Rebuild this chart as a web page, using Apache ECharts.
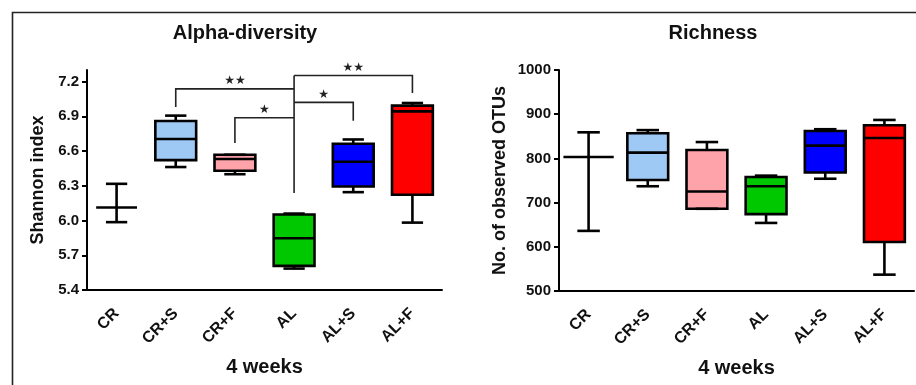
<!DOCTYPE html>
<html>
<head>
<meta charset="utf-8">
<script src="https://cdn.jsdelivr.net/npm/echarts@6/dist/echarts.min.js"></script>
<style>html,body{margin:0;padding:0;background:#fff}#c{width:916px;height:385px}</style>
</head>
<body>
<div id="c"></div>
<script>
// ---- data ----
const categories = ['CR', 'CR+S', 'CR+F', 'AL', 'AL+S', 'AL+F'];
// [min, Q1, median, Q3, max]
const shannonCR  = [5.986, 6.112, 6.112, 6.112, 6.317];
const shannonCRS = [6.462, 6.522, 6.704, 6.860, 6.906];
const shannonCRF = [6.400, 6.430, 6.531, 6.568, 6.568];
const shannonAL  = [5.585, 5.608, 5.847, 6.052, 6.060];
const shannonALS = [6.245, 6.294, 6.508, 6.663, 6.700];
const shannonALF = [5.982, 6.222, 6.943, 6.992, 7.015];

const richCR  = [636, 803, 803, 803, 859];
const richCRS = [737, 751, 813, 857, 864];
const richCRF = [686, 686, 725, 819, 837];
const richAL  = [654, 674, 737, 758, 761];
const richALS = [754, 768, 829, 862, 866];
const richALF = [537, 611, 846, 875, 887];

const shannonTicks = [5.4, 5.7, 6.0, 6.3, 6.6, 6.9, 7.2];
const richTicks = [500, 600, 700, 800, 900, 1000];

// significance brackets: [leftCat, rightCat, barValue, leftEnd, rightEnd, label]
const bracketCRS_AL = [1, 3, 7.137, 6.980, 7.137, '★★'];
const bracketCRF_AL = [2, 3, 6.888, 6.669, 6.888, '★'];
const bracketAL_ALS = [3, 4, 7.020, 7.020, 6.862, '★'];
const bracketAL_ALF = [3, 5, 7.252, 7.252, 7.102, '★★'];
// vertical stem from AL: [cat, top, bottom]
const stemAL = [3, 7.252, 6.237];

const boxColors = ['none', '#9fc9f5', '#ffa3ab', '#00c800', '#0000ff', '#ff0000'];

// ---- build ----
const shannonData = [shannonCR, shannonCRS, shannonCRF, shannonAL, shannonALS, shannonALF].map((d, i) => [i].concat(d));
const richData = [richCR, richCRS, richCRF, richAL, richALS, richALF].map((d, i) => [i].concat(d));
const bracketData = [bracketCRS_AL, bracketCRF_AL, bracketAL_ALS, bracketAL_ALF];

const LW = 2.6;
const INK = '#111';
const FONT = '"Liberation Sans", Arial, sans-serif';

function makeBoxRender(boxRatio, capRatio, flatRatio) {
  return function (params, api) {
    const idx = api.value(0);
    const mn = api.value(1), q1 = api.value(2), md = api.value(3), q3 = api.value(4), mx = api.value(5);
    const band = api.size([1, 0])[0];
    const c = api.coord([idx, md]);
    const cx = c[0];
    const yMin = api.coord([idx, mn])[1];
    const yQ1 = api.coord([idx, q1])[1];
    const yMd = c[1];
    const yQ3 = api.coord([idx, q3])[1];
    const yMax = api.coord([idx, mx])[1];
    const hw = band * boxRatio / 2;
    const cw = band * capRatio / 2;
    const st = { stroke: '#000', lineWidth: LW, fill: null };
    const ch = [];
    ch.push({ type: 'line', shape: { x1: cx, y1: yMax, x2: cx, y2: yQ3 }, style: st });
    ch.push({ type: 'line', shape: { x1: cx, y1: yQ1, x2: cx, y2: yMin }, style: st });
    if (q3 > q1) {
      ch.push({ type: 'rect', shape: { x: cx - hw, y: yQ3, width: 2 * hw, height: yQ1 - yQ3 },
        style: { fill: boxColors[idx], stroke: '#000', lineWidth: LW } });
      ch.push({ type: 'line', shape: { x1: cx - hw, y1: yMd, x2: cx + hw, y2: yMd }, style: st });
    } else {
      const fw = band * flatRatio / 2;
      ch.push({ type: 'line', shape: { x1: cx - fw, y1: yMd, x2: cx + fw, y2: yMd }, style: st });
    }
    ch.push({ type: 'line', shape: { x1: cx - cw, y1: yMax, x2: cx + cw, y2: yMax }, style: st });
    ch.push({ type: 'line', shape: { x1: cx - cw, y1: yMin, x2: cx + cw, y2: yMin }, style: st });
    return { type: 'group', children: ch };
  };
}

function renderBracket(params, api) {
  const l = api.value(0), r = api.value(1), bar = api.value(2), le = api.value(3), re = api.value(4);
  const label = bracketData[params.dataIndex][5];
  const pL = api.coord([l, bar]);
  const pR = api.coord([r, bar]);
  const yLE = api.coord([l, le])[1];
  const yRE = api.coord([r, re])[1];
  const st = { stroke: '#222', lineWidth: 1.6, fill: null };
  return {
    type: 'group',
    children: [
      { type: 'polyline', shape: { points: [[pL[0], yLE], [pL[0], pL[1]], [pR[0], pR[1]], [pR[0], yRE]] }, style: st },
      { type: 'text', x: (pL[0] + pR[0]) / 2, y: pL[1] - 8,
        style: { text: label, fontSize: 12, fontFamily: '"DejaVu Sans", sans-serif', fill: '#222', align: 'center', verticalAlign: 'middle' } }
    ]
  };
}

function renderStem(params, api) {
  const x = api.value(0);
  const p1 = api.coord([x, api.value(1)]);
  const p2 = api.coord([x, api.value(2)]);
  return { type: 'line', shape: { x1: p1[0], y1: p1[1], x2: p2[0], y2: p2[1] }, style: { stroke: '#222', lineWidth: 1.6 } };
}

function xAxisOf(gi) {
  return {
    type: 'category', gridIndex: gi, data: categories, boundaryGap: true,
    axisLine: { lineStyle: { color: '#000', width: 2 } },
    axisTick: { alignWithLabel: true, length: 6, lineStyle: { color: '#000', width: 2 } },
    axisLabel: { rotate: 45, margin: 21, color: INK, fontSize: 16, fontWeight: 'bold', fontFamily: FONT },
    name: '4 weeks', nameLocation: 'middle', nameGap: 67,
    nameTextStyle: { color: INK, fontSize: 20, fontWeight: 'bold', fontFamily: FONT },
    splitLine: { show: false }
  };
}

const option = {
  animation: false,
  backgroundColor: '#fff',
  title: [
    { text: 'Alpha-diversity', left: 245, top: 23, textAlign: 'center', padding: 0,
      textStyle: { color: INK, fontSize: 20, fontWeight: 'bold', fontFamily: FONT } },
    { text: 'Richness', left: 713, top: 23, textAlign: 'center', padding: 0,
      textStyle: { color: INK, fontSize: 20, fontWeight: 'bold', fontFamily: FONT } }
  ],
  graphic: [
    { type: 'rect', silent: true, shape: { x: 12.5, y: 12.5, width: 1000, height: 1000 },
      style: { fill: null, stroke: '#222', lineWidth: 1.6 } }
  ],
  grid: [
    { left: 87, top: 70, width: 355, height: 220 },
    { left: 559, top: 70, width: 355, height: 221 }
  ],
  xAxis: [xAxisOf(0), xAxisOf(1)],
  yAxis: [
    {
      type: 'value', gridIndex: 0, min: 5.4, max: 7.3,
      axisLine: { show: true, lineStyle: { color: '#000', width: 2 } },
      axisTick: { show: true, length: 5, customValues: shannonTicks, lineStyle: { color: '#000', width: 2 } },
      axisLabel: { customValues: shannonTicks, margin: 8, color: INK, fontSize: 15, fontWeight: 'bold', fontFamily: FONT,
        formatter: v => v.toFixed(1) },
      splitLine: { show: false },
      name: 'Shannon index', nameLocation: 'middle', nameGap: 40, nameRotate: 90,
      nameTextStyle: { color: INK, fontSize: 18, fontWeight: 'bold', fontFamily: FONT }
    },
    {
      type: 'value', gridIndex: 1, min: 500, max: 1000,
      axisLine: { show: true, lineStyle: { color: '#000', width: 2 } },
      axisTick: { show: true, length: 5, customValues: richTicks, lineStyle: { color: '#000', width: 2 } },
      axisLabel: { customValues: richTicks, margin: 8, color: INK, fontSize: 15, fontWeight: 'bold', fontFamily: FONT,
        formatter: v => String(v) },
      splitLine: { show: false },
      name: 'No. of observed OTUs', nameLocation: 'middle', nameGap: 50, nameRotate: 90,
      nameTextStyle: { color: INK, fontSize: 18, fontWeight: 'bold', fontFamily: FONT }
    }
  ],
  series: [
    { type: 'custom', xAxisIndex: 0, yAxisIndex: 0, clip: false, z: 3,
      renderItem: renderStem, encode: { x: 0, y: [1, 2] }, data: [stemAL] },
    { type: 'custom', xAxisIndex: 0, yAxisIndex: 0, clip: false, z: 3,
      renderItem: renderBracket, encode: { x: [0, 1], y: [2, 3, 4] },
      data: bracketData.map(b => b.slice(0, 5)) },
    { type: 'custom', xAxisIndex: 0, yAxisIndex: 0, clip: false, z: 4,
      renderItem: makeBoxRender(0.69, 0.36, 0.69), encode: { x: 0, y: [1, 2, 3, 4, 5] }, data: shannonData },
    { type: 'custom', xAxisIndex: 1, yAxisIndex: 1, clip: false, z: 4,
      renderItem: makeBoxRender(0.69, 0.38, 0.85), encode: { x: 0, y: [1, 2, 3, 4, 5] }, data: richData }
  ]
};

const chart = echarts.init(document.getElementById('c'), null, { renderer: 'canvas' });
chart.setOption(option);
</script>
</body>
</html>
